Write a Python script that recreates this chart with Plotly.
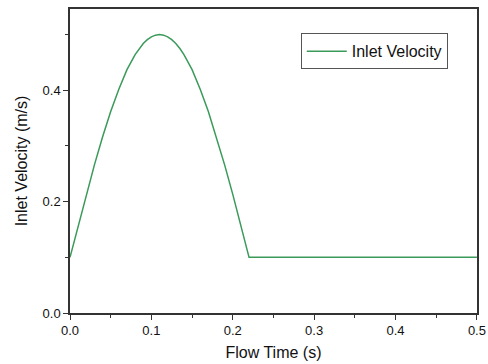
import plotly.graph_objects as go

time_s = [0.00, 0.01, 0.02, 0.03, 0.04, 0.05, 0.06, 0.07, 0.08, 0.085, 0.09, 0.095, 0.10, 0.105,
          0.11, 0.115, 0.12, 0.125, 0.13, 0.135, 0.14, 0.15, 0.16, 0.17, 0.18, 0.19, 0.20,
          0.21, 0.22, 0.50]
velocity = [0.100, 0.157, 0.213, 0.266, 0.316, 0.362, 0.402, 0.437, 0.464, 0.475, 0.484, 0.491,
            0.496, 0.499, 0.500, 0.499, 0.496, 0.491, 0.484, 0.475, 0.464, 0.437, 0.402, 0.362,
            0.316, 0.266, 0.213, 0.157, 0.100, 0.100]
x_ticks = [0.0, 0.1, 0.2, 0.3, 0.4, 0.5]
y_ticks = [0.0, 0.2, 0.4]

fig = go.Figure()
fig.add_trace(go.Scatter(x=time_s, y=velocity, mode="lines", name="Inlet Velocity",
                         line=dict(color="#3a9a5a", width=1.5)))

font = dict(family="Liberation Sans, Arial, sans-serif", color="#111111")
axis_common = dict(showline=True, linecolor="#333333", linewidth=1.5, mirror=True,
                   showgrid=False, zeroline=False, ticks="outside", ticklen=5,
                   tickcolor="#333333", tickwidth=1.2, tickfont=dict(size=13, **font),
                   ticklabeloverflow="allow", automargin=False)

fig.update_layout(
    width=488, height=364,
    margin=dict(l=70, r=11, t=9, b=51),
    plot_bgcolor="white", paper_bgcolor="white",
    font=font,
    showlegend=True,
    legend=dict(x=0.567, y=0.92, xanchor="left", yanchor="top",
                bordercolor="#555555", borderwidth=1, bgcolor="white",
                font=dict(size=16, **font), itemwidth=40),
    xaxis=dict(range=[0, 0.5001], tickvals=x_ticks, ticktext=[f"{v:.1f}" for v in x_ticks],
               title=dict(text="Flow Time (s)", font=dict(size=16, **font), standoff=9),
               minor=dict(ticks="outside", ticklen=3, tickcolor="#333333", dtick=0.05),
               **axis_common),
    yaxis=dict(range=[0, 0.546], tickvals=y_ticks, ticktext=[f"{v:.1f}" for v in y_ticks],
               title=dict(text="Inlet Velocity (m/s)", font=dict(size=16, **font), standoff=11),
               minor=dict(ticks="outside", ticklen=3, tickcolor="#333333", dtick=0.1),
               **axis_common),
)

fig.write_html("out.html")
